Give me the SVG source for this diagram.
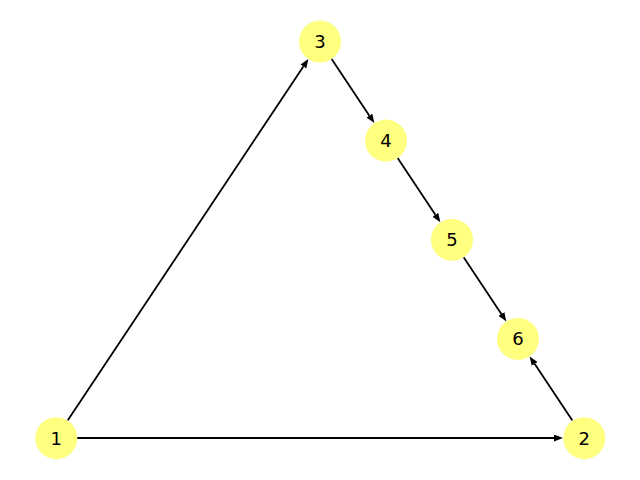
<svg xmlns="http://www.w3.org/2000/svg" width="640" height="480" viewBox="0 0 640 480">
<defs>
<style>
.node circle{fill:#ffff80;stroke:none}
.node text{font-family:"DejaVu Sans",sans-serif;font-size:18px;fill:#000;text-anchor:middle}
.edges line{stroke:#000;stroke-width:1.8;fill:none;marker-end:url(#arr)}
</style>
<marker id="arr" markerUnits="userSpaceOnUse" markerWidth="10" markerHeight="8" viewBox="0 0 10 8" refX="0" refY="3.5" orient="auto">
<path d="M0,0 L9,3.5 L0,7 z" fill="#000"/>
</marker>
</defs>
<rect width="640" height="480" fill="#fff"/>
<g id="edges" class="edges">
<line x1="77" y1="438" x2="554" y2="438"/>
<line x1="67.64" y1="420.52" x2="303.37" y2="66.47"/>
<line x1="331.64" y1="58.98" x2="369.37" y2="115.63"/>
<line x1="397.64" y1="158.08" x2="435.37" y2="214.83"/>
<line x1="463.64" y1="257.28" x2="501.37" y2="313.93"/>
<line x1="572.36" y1="420.52" x2="534.63" y2="363.87"/>
</g>
<g id="node1" class="node"><circle cx="56.3" cy="438.2" r="21"/><text x="56.3" y="444.6">1</text></g>
<g id="node2" class="node"><circle cx="584.3" cy="438.2" r="21"/><text x="584.3" y="444.6">2</text></g>
<g id="node3" class="node"><circle cx="320" cy="41.5" r="21"/><text x="320" y="47.9">3</text></g>
<g id="node4" class="node"><circle cx="386" cy="140.6" r="21"/><text x="386" y="147">4</text></g>
<g id="node5" class="node"><circle cx="452" cy="239.8" r="21"/><text x="452" y="246.2">5</text></g>
<g id="node6" class="node"><circle cx="518" cy="338.9" r="21"/><text x="518" y="345.3">6</text></g>
</svg>
